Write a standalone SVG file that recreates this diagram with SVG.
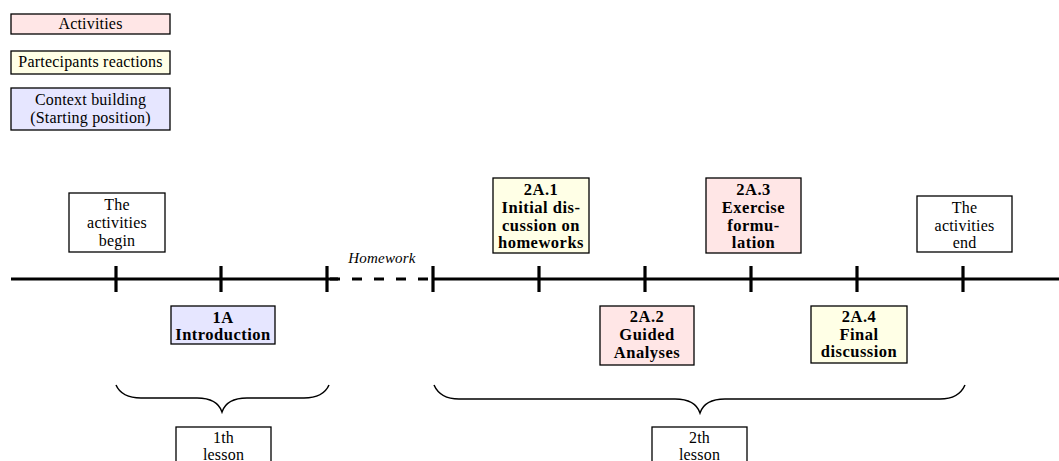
<svg xmlns="http://www.w3.org/2000/svg" width="1059" height="461" viewBox="0 0 1059 461">
  <style>
    text { font-family: "Liberation Serif", "Times New Roman", serif; font-size: 16px; fill: #000; text-anchor: middle; letter-spacing: 0.2px; }
    .b { font-weight: bold; font-size: 16.5px; letter-spacing: 0.5px; }
    .it { font-style: italic; font-size: 15px; }
    .box { stroke: #000; stroke-width: 1.3; }
    .act { fill: #ffe6e6; }
    .rea { fill: #ffffe6; }
    .ctx { fill: #e6e6ff; }
    .plain { fill: #fff; }
    .axis { stroke: #000; stroke-width: 3.2; fill: none; }
    .brace { stroke: #000; stroke-width: 1.5; fill: none; }
  </style>

  <!-- legend -->
  <g id="legend-activities">
    <rect class="box act" x="11" y="14" width="159" height="20"/>
    <text x="90.5" y="29">Activities</text>
  </g>
  <g id="legend-reactions">
    <rect class="box rea" x="11" y="51" width="159" height="23"/>
    <text x="90.5" y="67">Partecipants reactions</text>
  </g>
  <g id="legend-context">
    <rect class="box ctx" x="11" y="88" width="159" height="42"/>
    <text x="90.5" y="105">Context building</text>
    <text x="90.5" y="123">(Starting position)</text>
  </g>

  <!-- timeline axis, ticks and braces -->
  <g id="connectors">
    <line class="axis" x1="11" y1="279" x2="338" y2="279"/>
    <line class="axis" x1="330" y1="279" x2="433" y2="279" stroke-dasharray="10 12"/>
    <line class="axis" x1="433" y1="279" x2="1059" y2="279"/>
    <g class="axis">
      <line x1="116" y1="266" x2="116" y2="292"/>
      <line x1="221" y1="266" x2="221" y2="292"/>
      <line x1="327" y1="266" x2="327" y2="292"/>
      <line x1="433" y1="266" x2="433" y2="292"/>
      <line x1="539" y1="266" x2="539" y2="292"/>
      <line x1="645" y1="266" x2="645" y2="292"/>
      <line x1="751" y1="266" x2="751" y2="292"/>
      <line x1="857" y1="266" x2="857" y2="292"/>
      <line x1="963" y1="266" x2="963" y2="292"/>
    </g>
    <text class="it" x="382" y="263">Homework</text>
    <path class="brace" d="M116 385 C120 394 128 398 141 398 L197 398 C211 398 219 403 222 412 C225 403 233 398 247 398 L304 398 C317 398 325 394 329 385"/>
    <path class="brace" d="M434 385 C438 394 446 399 459 399 L675 399 C689 399 697 404 700 413 C703 404 711 399 725 399 L940 399 C953 399 961 394 965 385"/>
  </g>

  <!-- events above the axis -->
  <g id="start">
    <rect class="box plain" x="69" y="193" width="96" height="59"/>
    <text x="117" y="210">The</text>
    <text x="117" y="228">activities</text>
    <text x="117" y="246">begin</text>
  </g>
  <g id="a2-1">
    <rect class="box rea" x="493" y="178" width="96" height="75"/>
    <text class="b" x="541" y="195">2A.1</text>
    <text class="b" x="541" y="213">Initial dis-</text>
    <text class="b" x="541" y="231">cussion on</text>
    <text class="b" x="541" y="248">homeworks</text>
  </g>
  <g id="a2-3">
    <rect class="box act" x="706" y="178" width="95" height="75"/>
    <text class="b" x="753.5" y="195">2A.3</text>
    <text class="b" x="753.5" y="213">Exercise</text>
    <text class="b" x="753.5" y="231">formu-</text>
    <text class="b" x="753.5" y="248">lation</text>
  </g>
  <g id="end">
    <rect class="box plain" x="917" y="196" width="95" height="56"/>
    <text x="964.5" y="213">The</text>
    <text x="964.5" y="231">activities</text>
    <text x="964.5" y="248">end</text>
  </g>

  <!-- events below the axis -->
  <g id="a1">
    <rect class="box ctx" x="171" y="306" width="104" height="38"/>
    <text class="b" x="223" y="323">1A</text>
    <text class="b" x="223" y="340">Introduction</text>
  </g>
  <g id="a2-2">
    <rect class="box act" x="600" y="306" width="94" height="59"/>
    <text class="b" x="647" y="322">2A.2</text>
    <text class="b" x="647" y="340">Guided</text>
    <text class="b" x="647" y="358">Analyses</text>
  </g>
  <g id="a2-4">
    <rect class="box rea" x="811" y="306" width="96" height="57"/>
    <text class="b" x="859" y="322">2A.4</text>
    <text class="b" x="859" y="340">Final</text>
    <text class="b" x="859" y="357">discussion</text>
  </g>

  <!-- lesson labels -->
  <g id="lesson1">
    <rect class="box plain" x="176" y="427" width="95" height="50"/>
    <text x="223.5" y="443">1th</text>
    <text x="223.5" y="460">lesson</text>
  </g>
  <g id="lesson2">
    <rect class="box plain" x="652" y="427" width="95" height="50"/>
    <text x="699.5" y="443">2th</text>
    <text x="699.5" y="460">lesson</text>
  </g>
</svg>
